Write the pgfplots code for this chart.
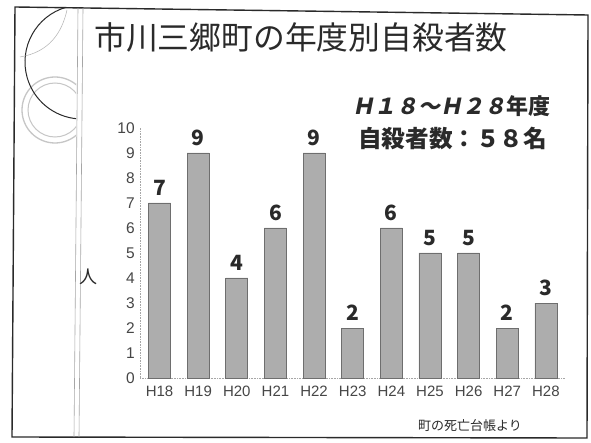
\documentclass[border=0pt]{standalone}
\usepackage{pgfplots}
\pgfplotsset{compat=1.18}
\usepackage{fontspec}
\setmainfont{Liberation Sans}
\newfontfamily\jp{Noto Sans CJK JP}
\newfontfamily\jpslant{Noto Sans CJK JP}[FakeSlant=0.2]
\definecolor{barfill}{HTML}{ADADAD}
\definecolor{baredge}{HTML}{6E6E6E}
\definecolor{ink}{HTML}{2A2A2A}
\begin{document}
\begin{tikzpicture}
\path[use as bounding box, fill=white] (0pt,0pt) rectangle (591pt,442pt);
% slide frame
\draw[line width=1.4pt, ink] (15pt,435pt) -- (588pt,427pt) -- (587pt,4pt) -- (12pt,5pt) -- cycle;
\draw[gray!70, line width=0.6pt] (78pt,434pt) -- (74pt,5pt);
\draw[gray!70, line width=0.6pt] (83pt,434pt) -- (79pt,5pt);
% decoration
\begin{scope}
\clip (15pt,5pt) rectangle (76pt,435pt);
\draw[gray!45, line width=1.3pt] (55pt,332pt) circle[radius=33pt];
\draw[gray!45, line width=1.0pt] (55pt,332pt) circle[radius=27pt];
\draw[ink, line width=1.0pt] (82pt,380pt) ++(106:57pt) arc[start angle=106, end angle=266, radius=57pt];
\draw[gray!60, line width=0.5pt] (67pt,432pt) .. controls (62pt,410pt) and (50pt,390pt) .. (20pt,385pt);
\end{scope}
% title
\node[anchor=base west, inner sep=0pt, text=ink, font=\jp\fontsize{31.8}{32}\selectfont] at (94pt,392pt) {市川三郷町の年度別自殺者数};
\node[anchor=west, inner sep=0pt, text=ink, font=\jp\bfseries\fontsize{22}{22}\selectfont] at (352pt,336pt) {{\jpslant\bfseries Ｈ１８～Ｈ２８}年度};
\node[anchor=west, inner sep=0pt, text=ink, font=\jp\bfseries\fontsize{23.6}{24}\selectfont] at (358pt,304pt) {自殺者数：５８名};
\node[text=ink, font=\jp\fontsize{18}{18}\selectfont] at (88pt,165pt) {人};
\node[anchor=west, inner sep=0pt, text=ink, font=\jp\fontsize{13}{13}\selectfont] at (418pt,16pt) {町の死亡台帳より};
\begin{axis}[
  at={(140.2pt,64pt)}, anchor=south west,
  scale only axis, width=425pt, height=250pt,
  xmin=-0.5, xmax=10.5, ymin=0, ymax=10,
  ybar, bar width=22pt,
  axis x line=bottom, axis y line=left,
  axis line style={-, gray!70, densely dotted, line width=0.6pt},
  major tick length=0pt,
  ytick={0,1,...,10},
  xtick=data,
  xticklabels={H18,H19,H20,H21,H22,H23,H24,H25,H26,H27,H28},
  /pgf/number format/assume math mode=true,
  yticklabel style={font=\fontsize{15.5}{15.5}\selectfont, text=gray!55!black, xshift=-2pt},
  xticklabel style={font=\fontsize{15}{15}\selectfont, text=gray!55!black, yshift=-4pt},
  nodes near coords,
  every node near coord/.append style={font=\jp\bfseries\fontsize{21}{21}\selectfont, text=ink, yshift=3.5pt},
  clip=false,
]
\addplot[fill=barfill, draw=baredge, line width=0.6pt] coordinates {
 (0,7) (1,9) (2,4) (3,6) (4,9) (5,2) (6,6) (7,5) (8,5) (9,2) (10,3)
};
\end{axis}
\end{tikzpicture}
\end{document}
